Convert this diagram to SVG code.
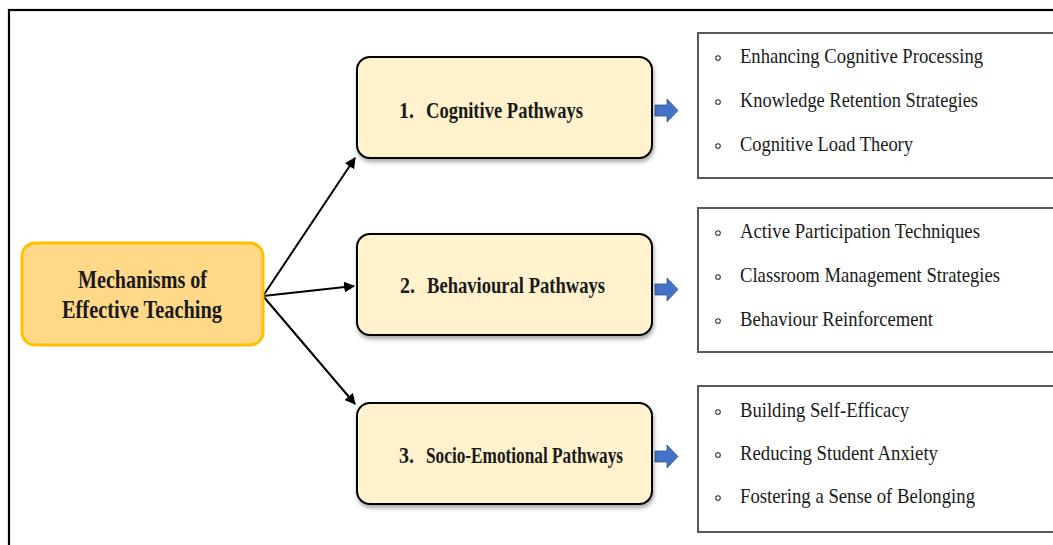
<svg xmlns="http://www.w3.org/2000/svg" width="1053" height="545" viewBox="0 0 1053 545">
<style>
.frame{fill:none;stroke:#000;stroke-width:2.2}
.root{fill:#FFD988;stroke:#FFC000;stroke-width:3}
.mid{fill:#FFF2CC;stroke:#000;stroke-width:2}
.list{fill:#fff;stroke:#595959;stroke-width:2}
.rt{font-family:"Liberation Serif","Times New Roman",serif;font-weight:bold;font-size:24.5px;fill:#1a1a1a}
.mt{font-family:"Liberation Serif","Times New Roman",serif;font-weight:bold;font-size:22.5px;fill:#1a1a1a}
.it{font-family:"Liberation Serif","Times New Roman",serif;font-size:21.5px;fill:#1a1a1a}
.bul{fill:none;stroke:#333;stroke-width:1.1}
.con{stroke:#000;stroke-width:2;fill:none}
.blue{fill:#4472C4;stroke:#2F5597;stroke-width:0.8}
</style>
<defs>
<marker id="ah" viewBox="0 0 10 10" refX="9" refY="5" markerWidth="5.5" markerHeight="5.5" orient="auto" markerUnits="strokeWidth">
<path d="M0,0 L10,5 L0,10 z" fill="#000"/>
</marker>
<filter id="sh" x="-10%" y="-10%" width="120%" height="130%">
<feDropShadow dx="1" dy="3" stdDeviation="2" flood-color="#000" flood-opacity="0.35"/>
</filter>
<g id="bullet"><circle cx="0" cy="0" r="2.3" class="bul"/></g>
</defs>
<rect class="frame" x="9" y="10" width="1060" height="560"/>

<g id="connectors">
<line class="con" x1="263" y1="296" x2="355" y2="158" marker-end="url(#ah)"/>
<line class="con" x1="263" y1="296" x2="354" y2="286" marker-end="url(#ah)"/>
<line class="con" x1="263" y1="296" x2="355" y2="404" marker-end="url(#ah)"/>
<path class="blue" d="M655,105 H667 V99 L678,110.5 L667,122 V116 H655 Z"/>
<path class="blue" d="M655,284 H667 V278 L678,289.5 L667,301 V295 H655 Z"/>
<path class="blue" d="M655,451 H667 V445 L678,456.5 L667,468 V462 H655 Z"/>
</g>

<g id="root">
<rect class="root" x="22" y="243" width="241" height="102" rx="13"/>
<text class="rt" x="78" y="288" textLength="129" lengthAdjust="spacingAndGlyphs">Mechanisms of</text>
<text class="rt" x="62" y="318" textLength="160" lengthAdjust="spacingAndGlyphs">Effective Teaching</text>
</g>

<g id="cognitive">
<rect class="mid" filter="url(#sh)" x="357" y="57" width="295" height="101" rx="13"/>
<text class="mt" x="399" y="118" textLength="15" lengthAdjust="spacingAndGlyphs">1.</text>
<text class="mt" x="426" y="118" textLength="157" lengthAdjust="spacingAndGlyphs">Cognitive Pathways</text>
</g>

<g id="behavioural">
<rect class="mid" filter="url(#sh)" x="357" y="234" width="295" height="101" rx="13"/>
<text class="mt" x="400" y="293" textLength="15" lengthAdjust="spacingAndGlyphs">2.</text>
<text class="mt" x="427" y="293" textLength="178" lengthAdjust="spacingAndGlyphs">Behavioural Pathways</text>
</g>

<g id="socio">
<rect class="mid" filter="url(#sh)" x="357" y="403" width="295" height="101" rx="13"/>
<text class="mt" x="399" y="463" textLength="15" lengthAdjust="spacingAndGlyphs">3.</text>
<text class="mt" x="426" y="463" textLength="197" lengthAdjust="spacingAndGlyphs">Socio-Emotional Pathways</text>
</g>

<g id="cognitive-list">
<rect class="list" x="698" y="33" width="370" height="145"/>
<use href="#bullet" x="718" y="58"/>
<use href="#bullet" x="718" y="102"/>
<use href="#bullet" x="718" y="146"/>
<text class="it" x="740" y="63" textLength="243" lengthAdjust="spacingAndGlyphs">Enhancing Cognitive Processing</text>
<text class="it" x="740" y="107" textLength="238" lengthAdjust="spacingAndGlyphs">Knowledge Retention Strategies</text>
<text class="it" x="740" y="151" textLength="173" lengthAdjust="spacingAndGlyphs">Cognitive Load Theory</text>
</g>

<g id="behavioural-list">
<rect class="list" x="698" y="208" width="370" height="144"/>
<use href="#bullet" x="718" y="233"/>
<use href="#bullet" x="718" y="277"/>
<use href="#bullet" x="718" y="321"/>
<text class="it" x="740" y="238" textLength="240" lengthAdjust="spacingAndGlyphs">Active Participation Techniques</text>
<text class="it" x="740" y="282" textLength="260" lengthAdjust="spacingAndGlyphs">Classroom Management Strategies</text>
<text class="it" x="740" y="326" textLength="193" lengthAdjust="spacingAndGlyphs">Behaviour Reinforcement</text>
</g>

<g id="socio-list">
<rect class="list" x="698" y="386" width="370" height="146"/>
<use href="#bullet" x="718" y="412"/>
<use href="#bullet" x="718" y="455"/>
<use href="#bullet" x="718" y="498"/>
<text class="it" x="740" y="417" textLength="169" lengthAdjust="spacingAndGlyphs">Building Self-Efficacy</text>
<text class="it" x="740" y="460" textLength="198" lengthAdjust="spacingAndGlyphs">Reducing Student Anxiety</text>
<text class="it" x="740" y="503" textLength="235" lengthAdjust="spacingAndGlyphs">Fostering a Sense of Belonging</text>
</g>
</svg>
